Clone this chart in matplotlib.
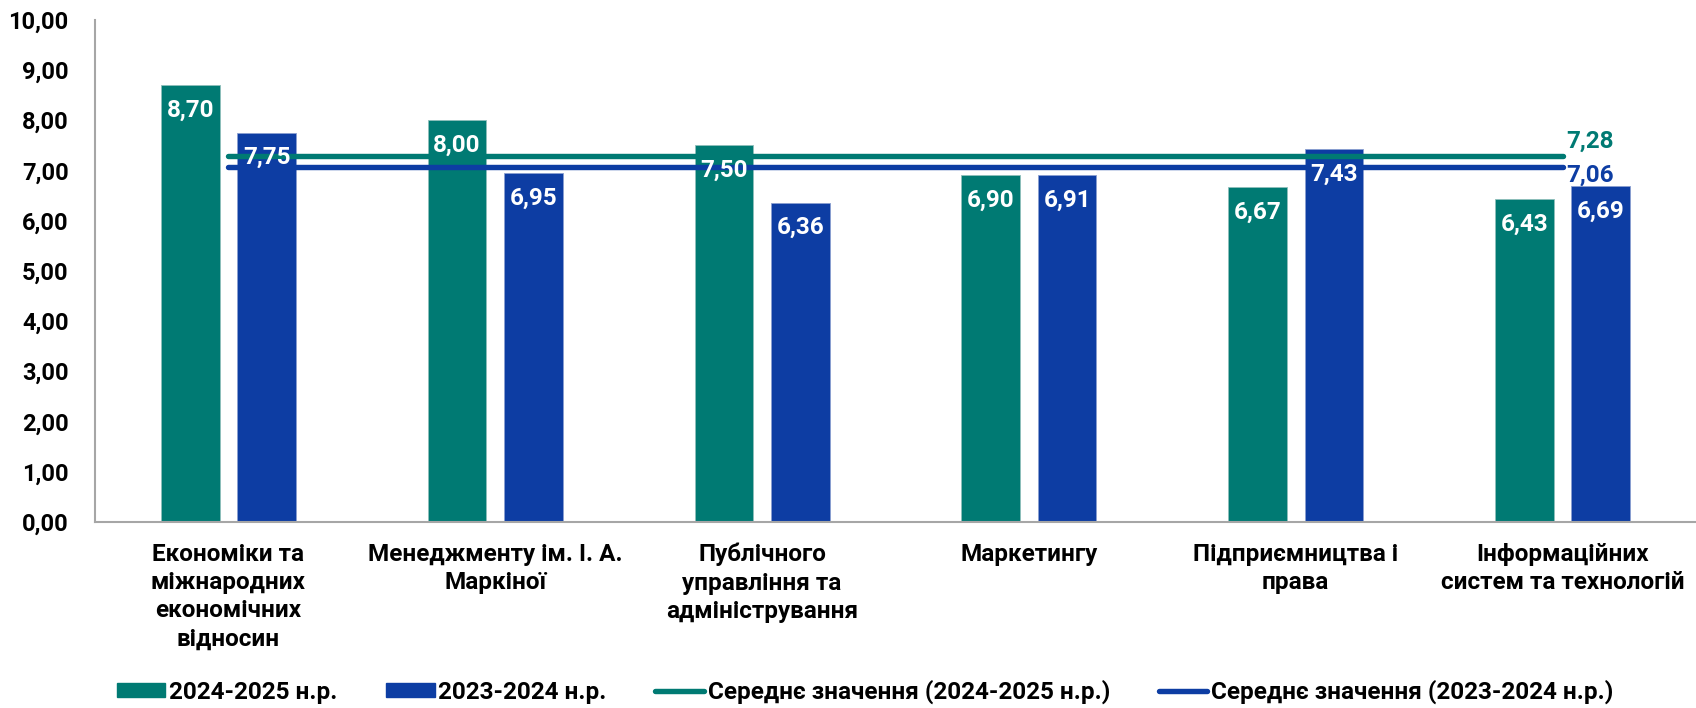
import numpy as np
import matplotlib
matplotlib.use("Agg")
import matplotlib.pyplot as plt
from matplotlib.patches import Patch
from matplotlib.lines import Line2D

plt.rcParams["font.family"] = ["Roboto", "DejaVu Sans"]
plt.rcParams["font.weight"] = "bold"

# дані
categories = [
    "Економіки та\nміжнародних\nекономічних\nвідносин",
    "Менеджменту ім. І. А.\nМаркіної",
    "Публічного\nуправління та\nадміністрування",
    "Маркетингу",
    "Підприємництва і\nправа",
    "Інформаційних\nсистем та технологій",
]
vals_2025 = [8.70, 8.00, 7.50, 6.90, 6.67, 6.43]
vals_2024 = [7.75, 6.95, 6.36, 6.91, 7.43, 6.69]
mean_2025 = 7.28
mean_2024 = 7.06
series_names = ["2024-2025 н.р.", "2023-2024 н.р.",
                "Середнє значення (2024-2025 н.р.)",
                "Середнє значення (2023-2024 н.р.)"]
yticks = np.arange(0, 10.01, 1.0)

TEAL = "#007A73"
BLUE = "#0D3DA3"

def fmt(v):
    return f"{v:.2f}".replace(".", ",")

fig = plt.figure(figsize=(16.96, 7.08), dpi=100)
ax = fig.add_axes([0.056, 0.263, 0.944, 0.709])

x = np.arange(len(categories))
w = 0.22
off = 0.143
b1 = ax.bar(x - off, vals_2025, w, color=TEAL, edgecolor="#8fbfbb", linewidth=0.6, zorder=2)
b2 = ax.bar(x + off, vals_2024, w, color=BLUE, edgecolor="#8a9fd0", linewidth=0.6, zorder=2)

# середні значення
ax.plot([x[0], x[-1]], [mean_2025] * 2, color=TEAL, lw=3.9, solid_capstyle="round", zorder=3)
ax.plot([x[0], x[-1]], [mean_2024] * 2, color=BLUE, lw=3.9, solid_capstyle="round", zorder=3)
ax.annotate(fmt(mean_2025), (x[-1], mean_2025), xytext=(3, 11), textcoords="offset points",
            ha="left", va="center", color=TEAL, fontsize=17.5, fontweight="bold", zorder=5)
ax.annotate(fmt(mean_2024), (x[-1], mean_2024), xytext=(3, -6), textcoords="offset points",
            ha="left", va="center", color=BLUE, fontsize=17.5, fontweight="bold", zorder=5)

for bars, vals in [(b1, vals_2025), (b2, vals_2024)]:
    for r, v in zip(bars, vals):
        ax.annotate(fmt(v), (r.get_x() + r.get_width() / 2, v), xytext=(0, -18),
                    textcoords="offset points", ha="center", va="center",
                    color="white", fontsize=17.5, fontweight="bold", zorder=5)

ax.set_ylim(0, 10)
ax.set_xlim(-0.5, len(categories) - 0.5)
ax.set_yticks(yticks)
ax.set_yticklabels([fmt(v) for v in yticks], fontsize=17, fontweight="bold")
ax.set_xticks(x)
ax.set_xticklabels(categories, fontsize=17.5, fontweight="bold", linespacing=1.3, va="top")
ax.tick_params(axis="both", length=0)
ax.tick_params(axis="y", pad=19)
ax.tick_params(axis="x", pad=15)
for s in ["top", "right"]:
    ax.spines[s].set_visible(False)
ax.spines["left"].set_color("#a6a6a6")
ax.spines["bottom"].set_color("#a6a6a6")
ax.spines["left"].set_linewidth(1.5)
ax.spines["bottom"].set_linewidth(1.5)

handles = [
    Patch(color=TEAL), Patch(color=BLUE),
    Line2D([], [], color=TEAL, lw=3.9, solid_capstyle="round"),
    Line2D([], [], color=BLUE, lw=3.9, solid_capstyle="round"),
]
fig.legend(handles, series_names, loc="center", bbox_to_anchor=(0.51, 0.023), ncol=4,
           frameon=False, prop={"size": 17.5, "weight": "bold"}, handlelength=2.0,
           handleheight=0.5, handletextpad=0.15, columnspacing=2.0)

fig.savefig("out.png", dpi=100)
